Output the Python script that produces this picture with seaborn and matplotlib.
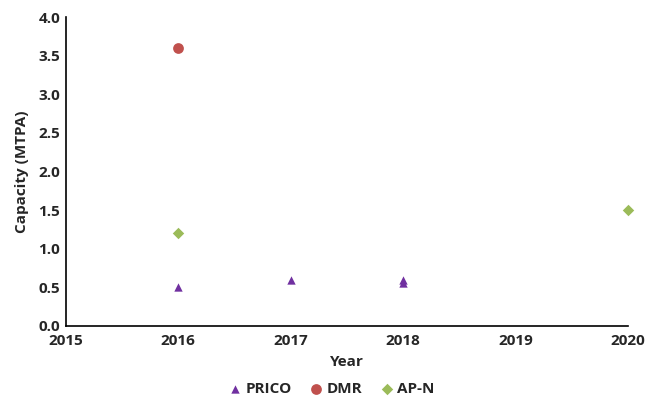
import matplotlib
matplotlib.use("Agg")
import matplotlib.pyplot as plt
import seaborn as sns
import pandas as pd

# Liquefaction capacity by start-up year
prico_years = [2016, 2017, 2018, 2018]
prico_capacity = [0.5, 0.6, 0.6, 0.55]
dmr_years = [2016]
dmr_capacity = [3.6]
apn_years = [2016, 2020]
apn_capacity = [1.2, 1.5]

series_names = ["PRICO", "DMR", "AP-N"]
x_ticks = [2015, 2016, 2017, 2018, 2019, 2020]
y_ticks = [0.0, 0.5, 1.0, 1.5, 2.0, 2.5, 3.0, 3.5, 4.0]

df = pd.DataFrame({
    "Year": prico_years + dmr_years + apn_years,
    "Capacity": prico_capacity + dmr_capacity + apn_capacity,
    "Process": ["PRICO"] * len(prico_years) + ["DMR"] * len(dmr_years) + ["AP-N"] * len(apn_years),
})

sns.set_style("white")
plt.rcParams["font.family"] = ["Open Sans", "DejaVu Sans"]

fig = plt.figure(figsize=(6.46, 3.97), dpi=100)
ax = fig.add_axes([0.102, 0.179, 0.870, 0.778])

palette = {"PRICO": "#7030A0", "DMR": "#C0504D", "AP-N": "#9BBB59"}
markers = {"PRICO": "^", "DMR": "o", "AP-N": "D"}
sizes = {"PRICO": 36, "DMR": 60, "AP-N": 34}

for name in series_names:
    sub = df[df["Process"] == name]
    sns.scatterplot(data=sub, x="Year", y="Capacity", ax=ax, color=palette[name],
                    marker=markers[name], s=sizes[name], linewidth=0, label=name,
                    clip_on=False, zorder=3)

fs = 11
ax.set_xlim(2015, 2020)
ax.set_ylim(0, 4.0)
ax.set_xticks(x_ticks)
ax.set_yticks(y_ticks)
ax.set_xticklabels([str(t) for t in x_ticks], fontsize=fs, fontweight="bold")
ax.set_yticklabels([f"{t:.1f}" for t in y_ticks], fontsize=fs, fontweight="bold")
ax.tick_params(axis="x", length=0, pad=6)
ax.tick_params(axis="y", length=0, pad=4)
ax.set_xlabel("Year", fontsize=fs, fontweight="bold", labelpad=5)
ax.set_ylabel("Capacity (MTPA)", fontsize=fs, fontweight="bold", labelpad=7)

for side in ["top", "right"]:
    ax.spines[side].set_visible(False)
for side in ["left", "bottom"]:
    ax.spines[side].set_color("#000000")
    ax.spines[side].set_linewidth(1.2)
ax.grid(False)

leg = ax.legend(loc="lower center", bbox_to_anchor=(0.47, -0.27), ncol=3, frameon=False,
                handletextpad=0.1, columnspacing=1.0, handlelength=1.2,
                prop={"size": fs, "weight": "bold"})

fig.savefig("out.png", dpi=100)
